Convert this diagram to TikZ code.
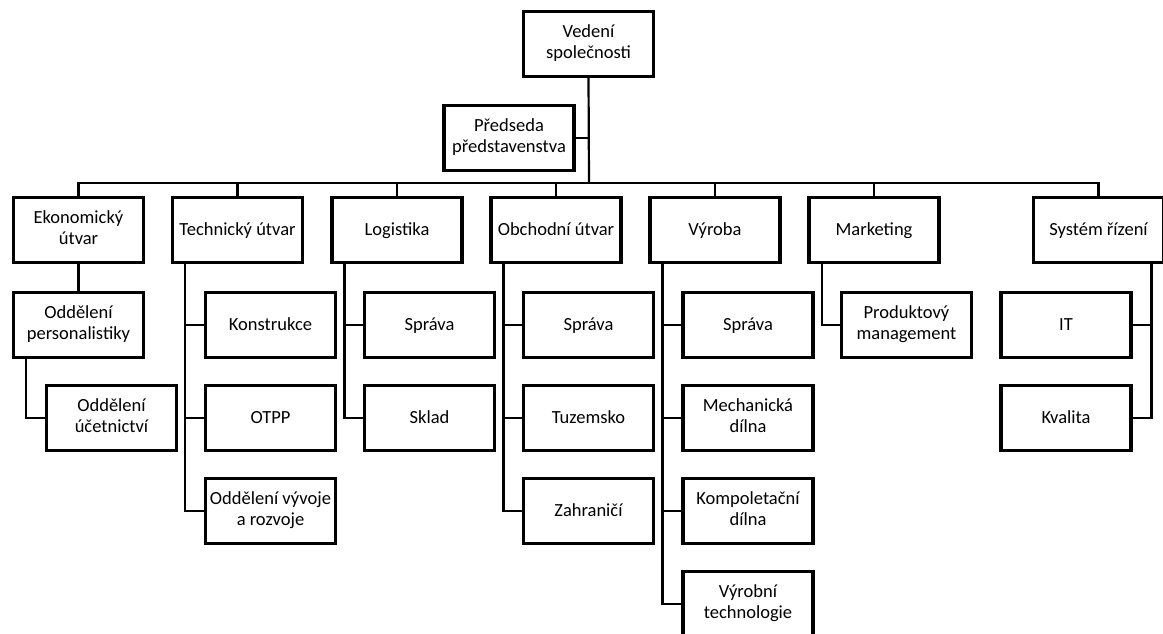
\documentclass[tikz,border=0pt]{standalone}
\usepackage{fontspec}
\setmainfont{Carlito}
\newcommand{\boxfont}{\fontsize{18.5}{21}\selectfont}
\newcommand{\boxstrut}{\rule[-5.2pt]{0pt}{21pt}}
\begin{document}
\begin{tikzpicture}[x=1pt,y=-1pt,
  box/.style={draw=black, line width=3.3pt, minimum width=130pt, minimum height=64.5pt,
    inner sep=0pt, outer sep=0pt, align=center, font=\boxfont, text=black,
    execute at begin node=\boxstrut, execute at end node=\boxstrut},
  conn/.style={draw=black, line width=2.2pt}]
\useasboundingbox (0,0) rectangle (1163,634);
\clip (0,0) rectangle (1163,634);
% top
\node[box] (ved) at (588.5,44) {Vedení\\společnosti};
\node[box] (pred) at (509,138) {Předseda\\představenstva};
\coordinate (bus) at (589,183);
% level 1
\node[box] (eko) at (78.5,230) {Ekonomický\\útvar};
\node[box] (tech) at (237.5,230) {Technický útvar};
\node[box] (log) at (397,230) {Logistika};
\node[box] (obch) at (556,230) {Obchodní útvar};
\node[box] (vyr) at (715,230) {Výroba};
\node[box] (mark) at (874,230) {Marketing};
\node[box] (sys) at (1098.5,230) {Systém řízení};
% level 2
\node[box] (pers) at (78.5,325) {Oddělení\\personalistiky};
\node[box] (uce) at (111.5,418) {Oddělení\\účetnictví};
\node[box] (kon) at (270.5,325) {Konstrukce};
\node[box] (otpp) at (270.5,418) {OTPP};
\node[box] (ovr) at (270.5,511) {Oddělení vývoje\\a rozvoje};
\node[box] (lspr) at (429.5,325) {Správa};
\node[box] (skl) at (429.5,418) {Sklad};
\node[box] (ospr) at (588.5,325) {Správa};
\node[box] (tuz) at (588.5,418) {Tuzemsko};
\node[box] (zah) at (588.5,511) {Zahraničí};
\node[box] (vspr) at (748,325) {Správa};
\node[box] (mech) at (748,418) {Mechanická\\dílna};
\node[box] (komp) at (748,511) {Kompoletační\\dílna};
\node[box] (vtech) at (748,604) {Výrobní\\technologie};
\node[box] (prod) at (906.5,325) {Produktový\\management};
\node[box] (it) at (1066,325) {IT};
\node[box] (kval) at (1066,418) {Kvalita};
% connectors top
\draw[conn] (ved.south) -- (bus);
\draw[conn] (pred.east) -- (pred.east -| bus);
\draw[conn] (eko.north) |- (bus) -| (sys.north);
\foreach \n in {tech,log,obch,vyr,mark}
  \draw[conn] (\n.north) -- (\n.north |- bus);
% Ekonomicky
\draw[conn] (eko.south) -- (pers.north);
\draw[conn] ([xshift=12.5pt]pers.south west) |- (uce.west);
% Technicky
\draw[conn] ([xshift=12.5pt]tech.south west) |- (ovr.west);
\draw[conn] ([xshift=12.5pt]tech.south west) |- (kon.west);
\draw[conn] ([xshift=12.5pt]tech.south west) |- (otpp.west);
% Logistika
\draw[conn] ([xshift=12.5pt]log.south west) |- (skl.west);
\draw[conn] ([xshift=12.5pt]log.south west) |- (lspr.west);
% Obchodni
\draw[conn] ([xshift=12.5pt]obch.south west) |- (zah.west);
\draw[conn] ([xshift=12.5pt]obch.south west) |- (ospr.west);
\draw[conn] ([xshift=12.5pt]obch.south west) |- (tuz.west);
% Vyroba
\draw[conn] ([xshift=12.5pt]vyr.south west) |- (vtech.west);
\draw[conn] ([xshift=12.5pt]vyr.south west) |- (vspr.west);
\draw[conn] ([xshift=12.5pt]vyr.south west) |- (mech.west);
\draw[conn] ([xshift=12.5pt]vyr.south west) |- (komp.west);
% Marketing
\draw[conn] ([xshift=13pt]mark.south west) |- (prod.west);
% System rizeni
\draw[conn] ([xshift=-12pt]sys.south east) |- (kval.east);
\draw[conn] ([xshift=-12pt]sys.south east) |- (it.east);
\end{tikzpicture}
\end{document}
